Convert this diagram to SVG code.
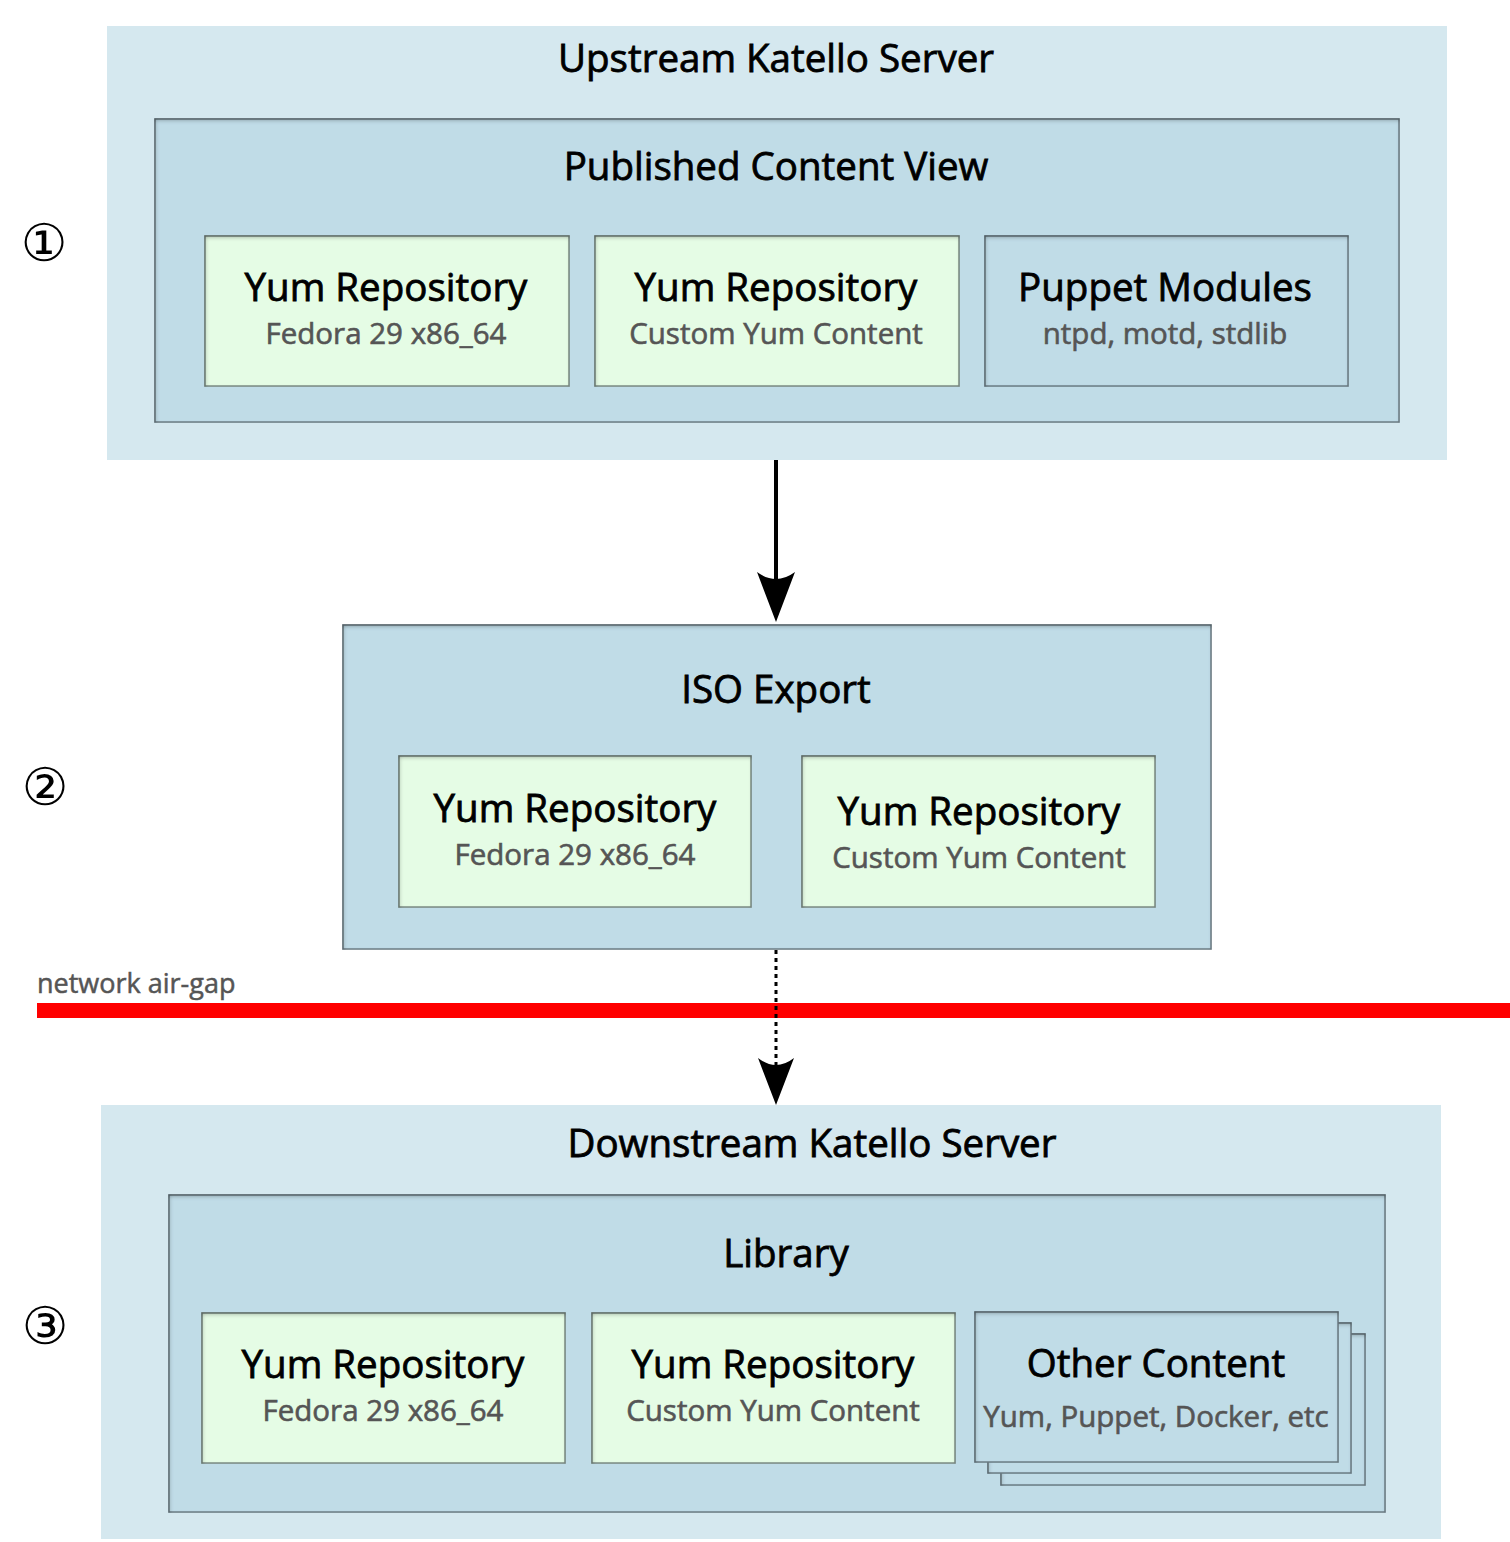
<svg xmlns="http://www.w3.org/2000/svg" width="1510" height="1542" viewBox="0 0 1510 1542">
<defs>
<style>
.outer{fill:#d5e8ef}
.panel{fill:#c0dce7;stroke:#6f8088;stroke-width:1.5;filter:url(#inset)}
.green{fill:#e5fce5;stroke:#7f8f86;stroke-width:1.5;filter:url(#inset)}
.blue{fill:#c0dce7;stroke:#6f8088;stroke-width:1.5;filter:url(#inset)}
.t{font-family:"Open Sans","Liberation Sans",sans-serif;fill:#000;stroke:#000;stroke-width:0.8;text-anchor:middle}
.big{font-size:38.5px}
.title{font-size:38.5px}
.sub{font-size:29.5px;fill:#555;stroke:#555;stroke-width:0.6}
.num{font-family:"DejaVu Sans",sans-serif;font-size:52px;text-anchor:middle;fill:#000}
.head{fill:#000}
</style>
<filter id="inset" x="-5%" y="-5%" width="110%" height="110%">
<feFlood flood-color="#000" flood-opacity="0.6"/>
<feComposite in2="SourceAlpha" operator="out"/>
<feGaussianBlur stdDeviation="2"/>
<feOffset dx="1" dy="2"/>
<feComposite in2="SourceAlpha" operator="in"/>
<feMerge><feMergeNode in="SourceGraphic"/><feMergeNode/></feMerge>
</filter>
</defs>
<rect width="1510" height="1542" fill="#fff"/>

<g id="upstream">
<rect class="outer" x="107" y="26" width="1340" height="434"/>
<text class="t title" x="776" y="72">Upstream Katello Server</text>
</g>
<g id="published">
<rect class="panel" x="155" y="119" width="1244" height="303"/>
<text class="t title" x="776" y="180">Published Content View</text>
</g>
<g id="up-yum1">
<rect class="green" x="205" y="236" width="364" height="150"/>
<text class="t big" x="386" y="301">Yum Repository</text>
<text class="t sub" x="386" y="344">Fedora 29 x86_64</text>
</g>
<g id="up-yum2">
<rect class="green" x="595" y="236" width="364" height="150"/>
<text class="t big" x="776" y="301">Yum Repository</text>
<text class="t sub" x="776" y="344">Custom Yum Content</text>
</g>
<g id="up-puppet">
<rect class="blue" x="985" y="236" width="363" height="150"/>
<text class="t big" x="1165" y="301">Puppet Modules</text>
<text class="t sub" x="1165" y="344">ntpd, motd, stdlib</text>
</g>

<g id="iso">
<rect class="panel" x="343" y="625" width="868" height="324"/>
<text class="t title" x="776" y="703">ISO Export</text>
</g>
<g id="iso-yum1">
<rect class="green" x="399" y="756" width="352" height="151"/>
<text class="t big" x="575" y="822">Yum Repository</text>
<text class="t sub" x="575" y="865">Fedora 29 x86_64</text>
</g>
<g id="iso-yum2">
<rect class="green" x="802" y="756" width="353" height="151"/>
<text class="t big" x="979" y="825">Yum Repository</text>
<text class="t sub" x="979" y="868">Custom Yum Content</text>
</g>

<g id="airgap">
<rect x="37" y="1003" width="1473" height="15" fill="#f00"/>
<text x="37" y="993" style="font-family:'Open Sans','Liberation Sans',sans-serif;font-size:27px;fill:#555;stroke:#555;stroke-width:0.5">network air-gap</text>
</g>

<g id="downstream">
<rect class="outer" x="101" y="1105" width="1340" height="434"/>
<text class="t title" x="812" y="1157">Downstream Katello Server</text>
</g>
<g id="library">
<rect class="panel" x="169" y="1195" width="1216" height="317"/>
<text class="t title" x="786" y="1267">Library</text>
</g>
<g id="dn-yum1">
<rect class="green" x="202" y="1313" width="363" height="150"/>
<text class="t big" x="383" y="1378">Yum Repository</text>
<text class="t sub" x="383" y="1421">Fedora 29 x86_64</text>
</g>
<g id="dn-yum2">
<rect class="green" x="592" y="1313" width="363" height="150"/>
<text class="t big" x="773" y="1378">Yum Repository</text>
<text class="t sub" x="773" y="1421">Custom Yum Content</text>
</g>
<g id="dn-other">
<rect class="blue" x="1001" y="1334" width="364" height="151"/>
<rect class="blue" x="988" y="1323" width="363" height="150"/>
<rect class="blue" x="975" y="1312" width="363" height="150"/>
<text class="t big" x="1156" y="1377">Other Content</text>
<text class="t sub" x="1156" y="1427">Yum, Puppet, Docker, etc</text>
</g>

<g id="numbers">
<text class="num" x="44" y="261">①</text>
<text class="num" x="45" y="805">②</text>
<text class="num" x="45" y="1344">③</text>
</g>

<g id="connectors">
<line x1="776" y1="460" x2="776" y2="600" stroke="#000" stroke-width="4"/>
<path class="head" d="M776,622 L757,572 Q776,586 795,572 Z"/>
<line x1="776" y1="950" x2="776" y2="1085" stroke="#000" stroke-width="3" stroke-dasharray="4,4"/>
<path class="head" d="M776,1105 L758,1058 Q776,1072 794,1058 Z"/>
</g>
</svg>
